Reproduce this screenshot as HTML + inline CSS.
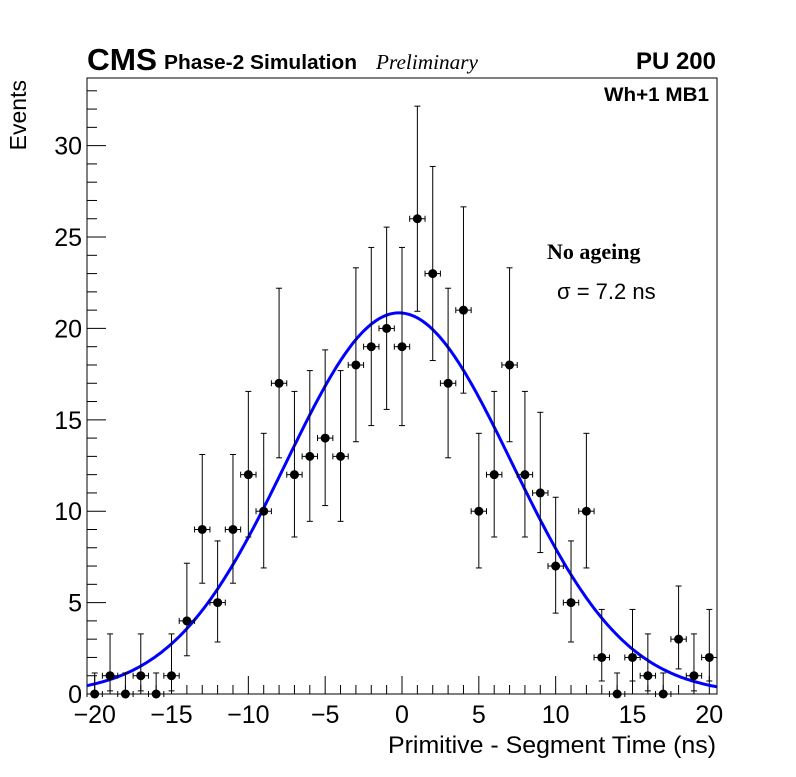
<!DOCTYPE html>
<html><head><meta charset="utf-8"><style>
body{margin:0;background:#fff;width:796px;height:772px;overflow:hidden}
svg text{font-family:"Liberation Sans",sans-serif}
</style></head><body>
<svg id="chart" width="796" height="772" xmlns="http://www.w3.org/2000/svg">
<rect x="87" y="78" width="630" height="616" fill="none" stroke="#000" stroke-width="1"/>
<g id="ticks"></g>
<g id="fit"></g>
<g id="pts"></g>
<text x="87" y="70" font-size="31" font-weight="bold" textLength="70" lengthAdjust="spacingAndGlyphs">CMS</text>
<text x="164" y="69" font-size="20" font-weight="bold" textLength="193" lengthAdjust="spacingAndGlyphs">Phase-2 Simulation</text>
<text x="376" y="69" font-size="21" font-style="italic" textLength="102" lengthAdjust="spacingAndGlyphs" style="font-family:'Liberation Serif',serif">Preliminary</text>
<text x="716" y="69" font-size="24" font-weight="bold" text-anchor="end">PU 200</text>
<text x="709" y="101" font-size="19" font-weight="bold" text-anchor="end" textLength="105" lengthAdjust="spacingAndGlyphs">Wh+1 MB1</text>
<text x="547" y="259" font-size="22" font-weight="bold" style="font-family:'Liberation Serif',serif">No ageing</text>
<text x="557" y="299" font-size="22">σ = 7.2 ns</text>
<text transform="translate(26,80) rotate(-90)" font-size="23" text-anchor="end">Events</text>
<text x="716" y="753" font-size="24" text-anchor="end" textLength="328" lengthAdjust="spacingAndGlyphs">Primitive - Segment Time (ns)</text>
</svg>
<script>
const binCenters=[-20,-19,-18,-17,-16,-15,-14,-13,-12,-11,-10,-9,-8,-7,-6,-5,-4,-3,-2,-1,0,1,2,3,4,5,6,7,8,9,10,11,12,13,14,15,16,17,18,19,20];
const counts=[0,1,0,1,0,1,4,9,5,9,12,10,17,12,13,14,13,18,19,20,19,26,23,17,21,10,12,18,12,11,7,5,10,2,0,2,1,0,3,1,2];
const xTickLabels=[-20,-15,-10,-5,0,5,10,15,20];
const yTickLabels=[0,5,10,15,20,25,30];
const fitAmp=[20.85];const fitMean=[-0.2];const fitSigma=[7.35];
const X0=87,X1=717,Y0=694,Y1=78,XMIN=-20.5,XMAX=20.5,YMIN=0,YMAX=33.7;
const sx=v=>X0+(v-XMIN)/(XMAX-XMIN)*(X1-X0);
const sy=v=>Y0-(v-YMIN)/(YMAX-YMIN)*(Y0-Y1);
const NS='http://www.w3.org/2000/svg';
function mk(t,a,p){const e=document.createElementNS(NS,t);for(const k in a)e.setAttribute(k,a[k]);p.appendChild(e);return e;}
const T=document.getElementById('ticks');
for(let v=-20;v<=20;v++){const l=mk('line',{x1:sx(v),x2:sx(v),y1:Y0,y2:Y0-(v%5===0?18:9),stroke:'#000'},T);

}
xTickLabels.forEach(v=>{const t=mk('text',{x:sx(v),y:Y0+29,'font-size':25,'text-anchor':'middle'},T);t.textContent=(v<0?'\u2212'+(-v):v);

});
for(let v=0;v<=33;v++){const l=mk('line',{x1:X0,x2:X0+(v%5===0?19:10),y1:sy(v),y2:sy(v),stroke:'#000'},T);

}
yTickLabels.forEach(v=>{const t=mk('text',{x:X0-5,y:sy(v)+9,'font-size':25,'text-anchor':'end'},T);t.textContent=v;

});
let d='';for(let i=0;i<=300;i++){const x=XMIN+(XMAX-XMIN)*i/300;const y=fitAmp[0]*Math.exp(-Math.pow(x-fitMean[0],2)/(2*fitSigma[0]*fitSigma[0]));d+=(i?'L':'M')+sx(x).toFixed(1)+','+sy(y).toFixed(1);}
const fp=mk('path',{d:d,fill:'none',stroke:'#0000ff','stroke-width':3},document.getElementById('fit'));


const P=document.getElementById('pts');
function lo(n){if(n===0)return 0;return n*Math.pow(1-1/(9*n)-1/(3*Math.sqrt(n)),3);}
function hi(n){if(n===0)return 1.15;const m=n+1;return m*Math.pow(1-1/(9*m)+1/(3*Math.sqrt(m)),3);}
binCenters.forEach((c,i)=>{const n=counts[i];const g=mk('g',{},P);


const x=sx(c),y=sy(n),hw=(sx(0.5)-sx(0));
mk('line',{x1:x,x2:x,y1:sy(lo(n)),y2:sy(hi(n)),stroke:'#000'},g);
mk('line',{x1:x-3,x2:x+3,y1:sy(hi(n)),y2:sy(hi(n)),stroke:'#000'},g);
if(n>0)mk('line',{x1:x-3,x2:x+3,y1:sy(lo(n)),y2:sy(lo(n)),stroke:'#000'},g);
mk('line',{x1:x-hw,x2:x+hw,y1:y,y2:y,stroke:'#000'},g);
mk('line',{x1:x-hw,x2:x-hw,y1:y-3,y2:y+3,stroke:'#000'},g);
mk('line',{x1:x+hw,x2:x+hw,y1:y-3,y2:y+3,stroke:'#000'},g);
mk('circle',{cx:x,cy:y,r:4.5,fill:'#000'},g);});
</script>
</body></html>
